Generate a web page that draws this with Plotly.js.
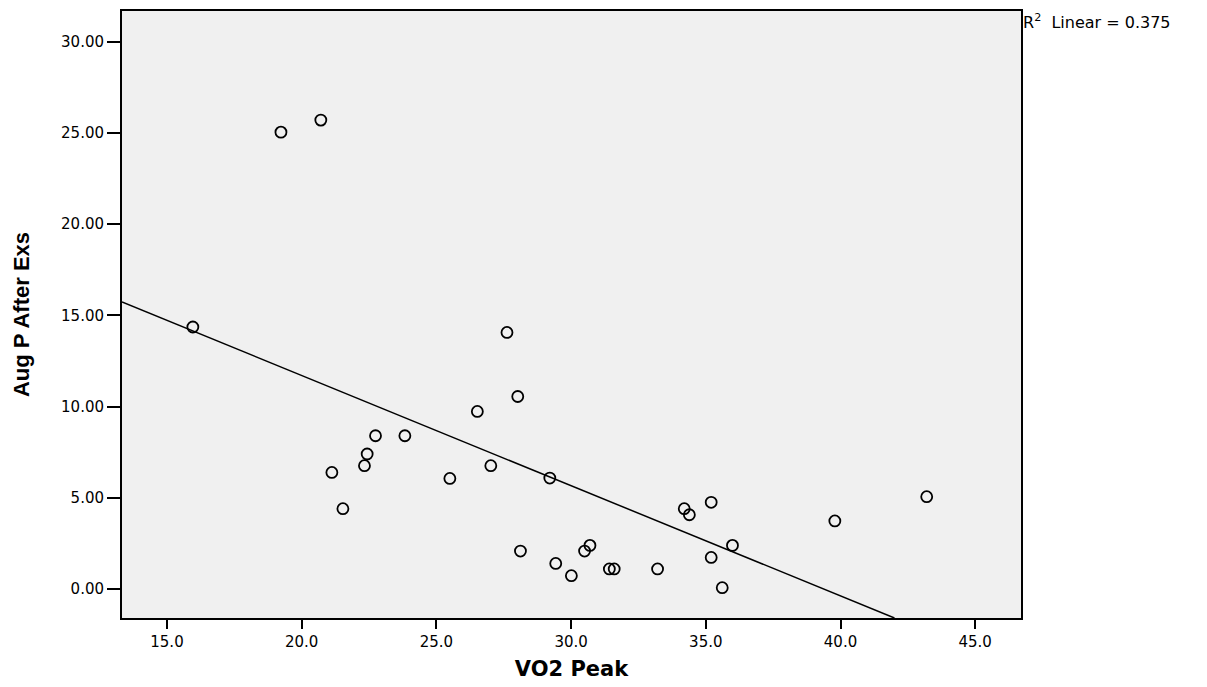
<!DOCTYPE html>
<html>
<head>
<meta charset="utf-8">
<script src="https://cdn.plot.ly/plotly-3.0.1.min.js"></script>
<style>html,body{margin:0;padding:0;background:#fff;}#chart{width:1207px;height:687px;}</style>
</head>
<body>
<div id="chart"></div>
<script>
// VO2 Peak (x) vs Aug P After Exs (y)
const vo2Peak = [15.96, 19.23, 20.71, 27.62, 28.02, 26.52, 22.74, 23.83, 22.43, 22.33,
  21.12, 21.53, 25.50, 27.02, 29.21, 34.20, 34.39, 35.20, 35.99, 35.20,
  35.61, 28.12, 29.43, 30.01, 30.50, 30.70, 31.42, 31.60, 33.21, 39.79, 43.20];
const augPAfterExs = [14.36, 25.04, 25.70, 14.06, 10.55, 9.73, 8.40, 8.40, 7.40, 6.76,
  6.39, 4.40, 6.06, 6.76, 6.08, 4.40, 4.07, 4.75, 2.39, 1.73,
  0.07, 2.08, 1.40, 0.73, 2.08, 2.39, 1.10, 1.10, 1.10, 3.73, 5.06];
const xRange = [13.33, 46.70];
const yRange = [-1.59, 31.68];
const r2Text = "R<sup>2</sup>  Linear = 0.375";

// least-squares fit line from the data
const n = vo2Peak.length;
const mx = vo2Peak.reduce((a, b) => a + b, 0) / n;
const my = augPAfterExs.reduce((a, b) => a + b, 0) / n;
let sxy = 0, sxx = 0;
for (let i = 0; i < n; i++) { sxy += (vo2Peak[i] - mx) * (augPAfterExs[i] - my); sxx += (vo2Peak[i] - mx) ** 2; }
const slope = sxy / sxx, intercept = my - slope * mx;
const fitX = [xRange[0], (yRange[0] - intercept) / slope];
const fitY = fitX.map(x => intercept + slope * x);

const traces = [
  {x: fitX, y: fitY, mode: 'lines', line: {color: '#000', width: 1.5}, hoverinfo: 'skip', showlegend: false},
  {x: vo2Peak, y: augPAfterExs, mode: 'markers', showlegend: false,
   marker: {symbol: 'circle-open', size: 11, color: '#000', line: {width: 1.8, color: '#000'}}}
];
const font = "DejaVu Sans, Liberation Sans, Arial, sans-serif";
const layout = {
  width: 1207, height: 687,
  margin: {l: 122, r: 186, t: 11, b: 69},
  paper_bgcolor: '#fff', plot_bgcolor: '#f0f0f0',
  font: {family: font, color: '#000', size: 15},
  showlegend: false,
  xaxis: {range: xRange, dtick: 5, tick0: 0, tickformat: '.1f', showgrid: false, zeroline: false,
    showline: true, linecolor: '#000', linewidth: 2, mirror: true,
    ticks: 'outside', ticklen: 9, tickwidth: 2, tickcolor: '#000',
    tickfont: {size: 15, family: font},
    title: {text: '<b>VO2 Peak</b>', font: {size: 21, family: font}, standoff: 11}},
  yaxis: {range: yRange, dtick: 5, tick0: 0, tickformat: '.2f', showgrid: false, zeroline: false,
    showline: true, linecolor: '#000', linewidth: 2, mirror: true,
    ticks: 'outside', ticklen: 13, tickwidth: 2, tickcolor: '#000',
    tickfont: {size: 15, family: font},
    title: {text: '<b>Aug P After Exs</b>', font: {size: 22, family: "Liberation Sans, Arial, sans-serif"}, standoff: 25}},
  annotations: [{xref: 'paper', yref: 'paper', x: 1.0, y: 0.982, xanchor: 'left', yanchor: 'middle',
    text: r2Text, showarrow: false, font: {size: 16, family: font}}]
};
Plotly.newPlot('chart', traces, layout, {displayModeBar: false, staticPlot: true});
</script>
</body>
</html>
